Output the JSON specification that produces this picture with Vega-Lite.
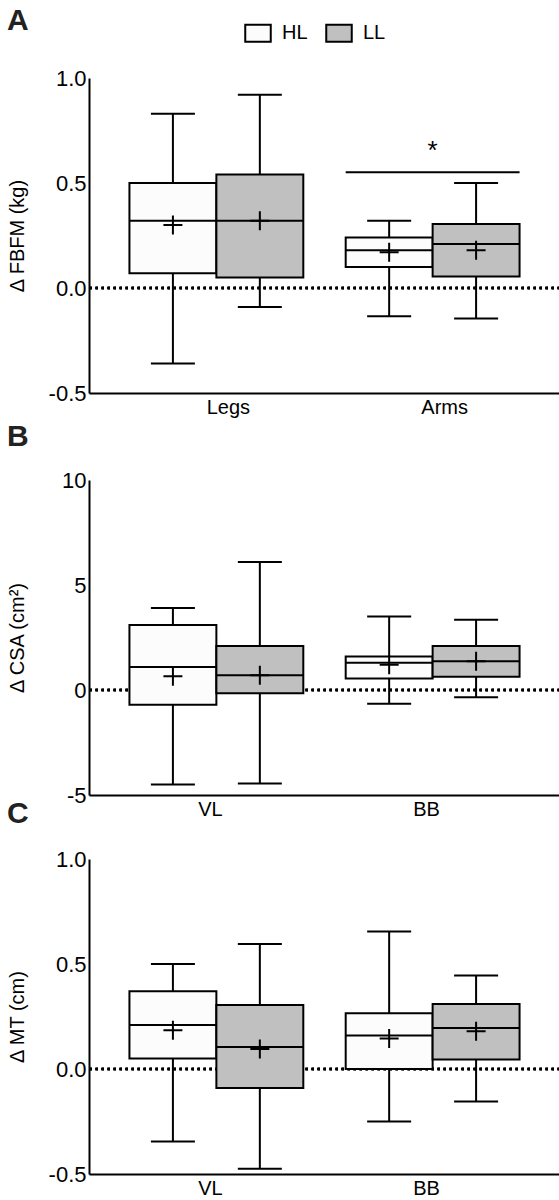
{
  "$schema": "https://vega.github.io/schema/vega-lite/v6.json",
  "padding": {"left": 7, "top": 6, "right": 0, "bottom": 0},
  "background": "white",
  "config": {
    "font": "Liberation Sans",
    "view": {"stroke": null},
    "axis": {
      "domainColor": "black",
      "domainWidth": 2,
      "ticks": false,
      "grid": false,
      "labelColor": "black",
      "labelFontSize": 22,
      "labelPadding": 3,
      "titleColor": "black",
      "titleFontSize": 20,
      "titleFontWeight": "normal"
    },
    "axisX": {"labelAngle": 0, "labelPadding": 4, "labelFontSize": 20},
    "title": {"fontSize": 30, "fontWeight": "bold", "anchor": "start", "frame": "bounds", "color": "#222222"}
  },
  "datasets": {
    "boxes": [
      {"panel": "A", "site": "Legs", "group": "HL", "lo": -0.36, "q1": 0.07, "median": 0.32, "q3": 0.50, "hi": 0.83, "mean": 0.30},
      {"panel": "A", "site": "Legs", "group": "LL", "lo": -0.09, "q1": 0.05, "median": 0.32, "q3": 0.54, "hi": 0.92, "mean": 0.32},
      {"panel": "A", "site": "Arms", "group": "HL", "lo": -0.135, "q1": 0.10, "median": 0.18, "q3": 0.24, "hi": 0.32, "mean": 0.17},
      {"panel": "A", "site": "Arms", "group": "LL", "lo": -0.145, "q1": 0.055, "median": 0.21, "q3": 0.305, "hi": 0.50, "mean": 0.18},
      {"panel": "B", "site": "VL", "group": "HL", "lo": -4.5, "q1": -0.7, "median": 1.1, "q3": 3.1, "hi": 3.9, "mean": 0.65},
      {"panel": "B", "site": "VL", "group": "LL", "lo": -4.45, "q1": -0.15, "median": 0.7, "q3": 2.1, "hi": 6.1, "mean": 0.7},
      {"panel": "B", "site": "BB", "group": "HL", "lo": -0.65, "q1": 0.55, "median": 1.3, "q3": 1.6, "hi": 3.5, "mean": 1.2},
      {"panel": "B", "site": "BB", "group": "LL", "lo": -0.35, "q1": 0.63, "median": 1.37, "q3": 2.1, "hi": 3.35, "mean": 1.37},
      {"panel": "C", "site": "VL", "group": "HL", "lo": -0.345, "q1": 0.05, "median": 0.21, "q3": 0.37, "hi": 0.50, "mean": 0.185},
      {"panel": "C", "site": "VL", "group": "LL", "lo": -0.475, "q1": -0.09, "median": 0.105, "q3": 0.305, "hi": 0.595, "mean": 0.095},
      {"panel": "C", "site": "BB", "group": "HL", "lo": -0.25, "q1": 0.0, "median": 0.16, "q3": 0.265, "hi": 0.655, "mean": 0.145},
      {"panel": "C", "site": "BB", "group": "LL", "lo": -0.155, "q1": 0.045, "median": 0.195, "q3": 0.31, "hi": 0.445, "mean": 0.18}
    ],
    "sig": [
      {"site": "Arms", "y": 0.551, "label": "*"}
    ]
  },
  "spacing": -20,
  "resolve": {"scale": {"fill": "shared"}},
  "vconcat": [
    {
      "width": 471,
      "height": 315,
      "title": {"text": "A", "offset": 31},
      "data": {"name": "boxes"},
      "transform": [{"filter": "datum.panel === 'A'"}],
      "layer": [
        {
          "mark": {"type": "rule", "strokeDash": [2.5, 3.5], "strokeWidth": 2.5, "color": "black"},
          "encoding": {
            "y": {"datum": 0, "type": "quantitative", "scale": {"domain": [-0.5, 1.0], "nice": false, "zero": false},
                  "axis": {"title": "Δ FBFM (kg)", "values": [-0.5, 0, 0.5, 1.0], "format": ".1f", "labelExpr": "replace(datum.label, '−', '-')", "titleX": -62}}
          }
        },
        {
          "mark": {"type": "rule", "color": "black", "strokeWidth": 2},
          "encoding": {
            "x": {"field": "site", "type": "nominal", "sort": ["Legs", "Arms"], "scale": {"paddingInner": 0.196, "paddingOuter": 0.187},
                  "axis": {"title": " ", "titleFontSize": 10, "titlePadding": 15, "labelOffset": 12}},
            "xOffset": {"field": "group", "type": "nominal", "sort": ["HL", "LL"], "scale": {"paddingInner": 0, "paddingOuter": 0}},
            "y": {"field": "lo", "type": "quantitative", "title": "Δ FBFM (kg)"},
            "y2": {"field": "hi"}
          }
        },
        {
          "mark": {"type": "tick", "size": 44, "thickness": 2, "color": "black", "opacity": 1},
          "encoding": {
            "x": {"field": "site", "type": "nominal", "sort": ["Legs", "Arms"]},
            "xOffset": {"field": "group", "type": "nominal", "sort": ["HL", "LL"]},
            "y": {"field": "lo", "type": "quantitative", "title": "Δ FBFM (kg)"}
          }
        },
        {
          "mark": {"type": "tick", "size": 44, "thickness": 2, "color": "black", "opacity": 1},
          "encoding": {
            "x": {"field": "site", "type": "nominal", "sort": ["Legs", "Arms"]},
            "xOffset": {"field": "group", "type": "nominal", "sort": ["HL", "LL"]},
            "y": {"field": "hi", "type": "quantitative", "title": "Δ FBFM (kg)"}
          }
        },
        {
          "mark": {"type": "bar", "stroke": "black", "strokeWidth": 2, "opacity": 1},
          "encoding": {
            "x": {"field": "site", "type": "nominal", "sort": ["Legs", "Arms"]},
            "xOffset": {"field": "group", "type": "nominal", "sort": ["HL", "LL"]},
            "y": {"field": "q1", "type": "quantitative", "title": "Δ FBFM (kg)"},
            "y2": {"field": "q3"},
            "fill": {"field": "group", "type": "nominal", "scale": {"domain": ["HL", "LL"], "range": ["#fcfcfc", "#c0c0c0"]},
                     "legend": {"orient": "none", "legendX": 159, "legendY": -55, "direction": "horizontal", "title": null,
                                "symbolType": "M-1.5,-1H1.5V1H-1.5Z", "symbolSize": 289, "symbolStrokeColor": "black", "symbolStrokeWidth": 2,
                                "symbolOpacity": 1, "labelFontSize": 20, "labelColor": "black", "labelOffset": 14, "columnPadding": 14}}
          }
        },
        {
          "mark": {"type": "bar", "stroke": "black", "strokeWidth": 2, "fillOpacity": 0},
          "encoding": {
            "x": {"field": "site", "type": "nominal", "sort": ["Legs", "Arms"]},
            "xOffset": {"field": "group", "type": "nominal", "sort": ["HL", "LL"]},
            "y": {"field": "median", "type": "quantitative", "title": "Δ FBFM (kg)"},
            "y2": {"field": "median"}
          }
        },
        {
          "mark": {"type": "point", "shape": "M-1,0H1M0,-1V1", "filled": false, "stroke": "black", "strokeWidth": 2, "size": 361, "opacity": 1},
          "encoding": {
            "x": {"field": "site", "type": "nominal", "sort": ["Legs", "Arms"]},
            "xOffset": {"field": "group", "type": "nominal", "sort": ["HL", "LL"]},
            "y": {"field": "mean", "type": "quantitative", "title": "Δ FBFM (kg)"}
          }
        },
        {
          "data": {"name": "sig"},
          "mark": {"type": "bar", "stroke": "black", "strokeWidth": 2, "fillOpacity": 0},
          "encoding": {
            "x": {"field": "site", "type": "nominal", "sort": ["Legs", "Arms"]},
            "y": {"field": "y", "type": "quantitative", "title": "Δ FBFM (kg)"},
            "y2": {"field": "y"}
          }
        },
        {
          "data": {"name": "sig"},
          "mark": {"type": "text", "fontSize": 26, "color": "black", "baseline": "alphabetic", "dy": -13},
          "encoding": {
            "x": {"field": "site", "type": "nominal", "sort": ["Legs", "Arms"]},
            "y": {"field": "y", "type": "quantitative", "title": "Δ FBFM (kg)"},
            "text": {"field": "label"}
          }
        }
      ]
    },
    {
      "width": 471,
      "height": 315,
      "title": {"text": "B", "offset": 17},
      "data": {"name": "boxes"},
      "transform": [{"filter": "datum.panel === 'B'"}],
      "layer": [
        {
          "mark": {"type": "rule", "strokeDash": [2.5, 3.5], "strokeWidth": 2.5, "color": "black"},
          "encoding": {
            "y": {"datum": 0, "type": "quantitative", "scale": {"domain": [-5, 10], "nice": false, "zero": false},
                  "axis": {"title": "Δ CSA (cm²)", "values": [-5, 0, 5, 10], "format": "d", "labelExpr": "replace(datum.label, '−', '-')", "titleX": -62}}
          }
        },
        {
          "mark": {"type": "rule", "color": "black", "strokeWidth": 2},
          "encoding": {
            "x": {"field": "site", "type": "nominal", "sort": ["VL", "BB"], "scale": {"paddingInner": 0.196, "paddingOuter": 0.187},
                  "axis": {"title": null, "labelOffset": -6}},
            "xOffset": {"field": "group", "type": "nominal", "sort": ["HL", "LL"], "scale": {"paddingInner": 0, "paddingOuter": 0}},
            "y": {"field": "lo", "type": "quantitative", "title": "Δ CSA (cm²)"},
            "y2": {"field": "hi"}
          }
        },
        {
          "mark": {"type": "tick", "size": 44, "thickness": 2, "color": "black", "opacity": 1},
          "encoding": {
            "x": {"field": "site", "type": "nominal", "sort": ["VL", "BB"]},
            "xOffset": {"field": "group", "type": "nominal", "sort": ["HL", "LL"]},
            "y": {"field": "lo", "type": "quantitative", "title": "Δ CSA (cm²)"}
          }
        },
        {
          "mark": {"type": "tick", "size": 44, "thickness": 2, "color": "black", "opacity": 1},
          "encoding": {
            "x": {"field": "site", "type": "nominal", "sort": ["VL", "BB"]},
            "xOffset": {"field": "group", "type": "nominal", "sort": ["HL", "LL"]},
            "y": {"field": "hi", "type": "quantitative", "title": "Δ CSA (cm²)"}
          }
        },
        {
          "mark": {"type": "bar", "stroke": "black", "strokeWidth": 2, "opacity": 1},
          "encoding": {
            "x": {"field": "site", "type": "nominal", "sort": ["VL", "BB"]},
            "xOffset": {"field": "group", "type": "nominal", "sort": ["HL", "LL"]},
            "y": {"field": "q1", "type": "quantitative", "title": "Δ CSA (cm²)"},
            "y2": {"field": "q3"},
            "fill": {"field": "group", "type": "nominal", "scale": {"domain": ["HL", "LL"], "range": ["#fcfcfc", "#c0c0c0"]},
                     "legend": {"orient": "none", "legendX": 159, "legendY": -55, "direction": "horizontal", "title": null,
                                "symbolType": "M-1.5,-1H1.5V1H-1.5Z", "symbolSize": 289, "symbolStrokeColor": "black", "symbolStrokeWidth": 2,
                                "symbolOpacity": 1, "labelFontSize": 20, "labelColor": "black", "labelOffset": 14, "columnPadding": 14}}
          }
        },
        {
          "mark": {"type": "bar", "stroke": "black", "strokeWidth": 2, "fillOpacity": 0},
          "encoding": {
            "x": {"field": "site", "type": "nominal", "sort": ["VL", "BB"]},
            "xOffset": {"field": "group", "type": "nominal", "sort": ["HL", "LL"]},
            "y": {"field": "median", "type": "quantitative", "title": "Δ CSA (cm²)"},
            "y2": {"field": "median"}
          }
        },
        {
          "mark": {"type": "point", "shape": "M-1,0H1M0,-1V1", "filled": false, "stroke": "black", "strokeWidth": 2, "size": 361, "opacity": 1},
          "encoding": {
            "x": {"field": "site", "type": "nominal", "sort": ["VL", "BB"]},
            "xOffset": {"field": "group", "type": "nominal", "sort": ["HL", "LL"]},
            "y": {"field": "mean", "type": "quantitative", "title": "Δ CSA (cm²)"}
          }
        }
      ]
    },
    {
      "width": 471,
      "height": 315,
      "title": {"text": "C", "offset": 19},
      "data": {"name": "boxes"},
      "transform": [{"filter": "datum.panel === 'C'"}],
      "layer": [
        {
          "mark": {"type": "rule", "strokeDash": [2.5, 3.5], "strokeWidth": 2.5, "color": "black"},
          "encoding": {
            "y": {"datum": 0, "type": "quantitative", "scale": {"domain": [-0.5, 1.0], "nice": false, "zero": false},
                  "axis": {"title": "Δ MT (cm)", "values": [-0.5, 0, 0.5, 1.0], "format": ".1f", "labelExpr": "replace(datum.label, '−', '-')", "titleX": -62}}
          }
        },
        {
          "mark": {"type": "rule", "color": "black", "strokeWidth": 2},
          "encoding": {
            "x": {"field": "site", "type": "nominal", "sort": ["VL", "BB"], "scale": {"paddingInner": 0.196, "paddingOuter": 0.187},
                  "axis": {"title": null, "labelOffset": -6}},
            "xOffset": {"field": "group", "type": "nominal", "sort": ["HL", "LL"], "scale": {"paddingInner": 0, "paddingOuter": 0}},
            "y": {"field": "lo", "type": "quantitative", "title": "Δ MT (cm)"},
            "y2": {"field": "hi"}
          }
        },
        {
          "mark": {"type": "tick", "size": 44, "thickness": 2, "color": "black", "opacity": 1},
          "encoding": {
            "x": {"field": "site", "type": "nominal", "sort": ["VL", "BB"]},
            "xOffset": {"field": "group", "type": "nominal", "sort": ["HL", "LL"]},
            "y": {"field": "lo", "type": "quantitative", "title": "Δ MT (cm)"}
          }
        },
        {
          "mark": {"type": "tick", "size": 44, "thickness": 2, "color": "black", "opacity": 1},
          "encoding": {
            "x": {"field": "site", "type": "nominal", "sort": ["VL", "BB"]},
            "xOffset": {"field": "group", "type": "nominal", "sort": ["HL", "LL"]},
            "y": {"field": "hi", "type": "quantitative", "title": "Δ MT (cm)"}
          }
        },
        {
          "mark": {"type": "bar", "stroke": "black", "strokeWidth": 2, "opacity": 1},
          "encoding": {
            "x": {"field": "site", "type": "nominal", "sort": ["VL", "BB"]},
            "xOffset": {"field": "group", "type": "nominal", "sort": ["HL", "LL"]},
            "y": {"field": "q1", "type": "quantitative", "title": "Δ MT (cm)"},
            "y2": {"field": "q3"},
            "fill": {"field": "group", "type": "nominal", "scale": {"domain": ["HL", "LL"], "range": ["#fcfcfc", "#c0c0c0"]},
                     "legend": {"orient": "none", "legendX": 159, "legendY": -55, "direction": "horizontal", "title": null,
                                "symbolType": "M-1.5,-1H1.5V1H-1.5Z", "symbolSize": 289, "symbolStrokeColor": "black", "symbolStrokeWidth": 2,
                                "symbolOpacity": 1, "labelFontSize": 20, "labelColor": "black", "labelOffset": 14, "columnPadding": 14}}
          }
        },
        {
          "mark": {"type": "bar", "stroke": "black", "strokeWidth": 2, "fillOpacity": 0},
          "encoding": {
            "x": {"field": "site", "type": "nominal", "sort": ["VL", "BB"]},
            "xOffset": {"field": "group", "type": "nominal", "sort": ["HL", "LL"]},
            "y": {"field": "median", "type": "quantitative", "title": "Δ MT (cm)"},
            "y2": {"field": "median"}
          }
        },
        {
          "mark": {"type": "point", "shape": "M-1,0H1M0,-1V1", "filled": false, "stroke": "black", "strokeWidth": 2, "size": 361, "opacity": 1},
          "encoding": {
            "x": {"field": "site", "type": "nominal", "sort": ["VL", "BB"]},
            "xOffset": {"field": "group", "type": "nominal", "sort": ["HL", "LL"]},
            "y": {"field": "mean", "type": "quantitative", "title": "Δ MT (cm)"}
          }
        }
      ]
    }
  ]
}
